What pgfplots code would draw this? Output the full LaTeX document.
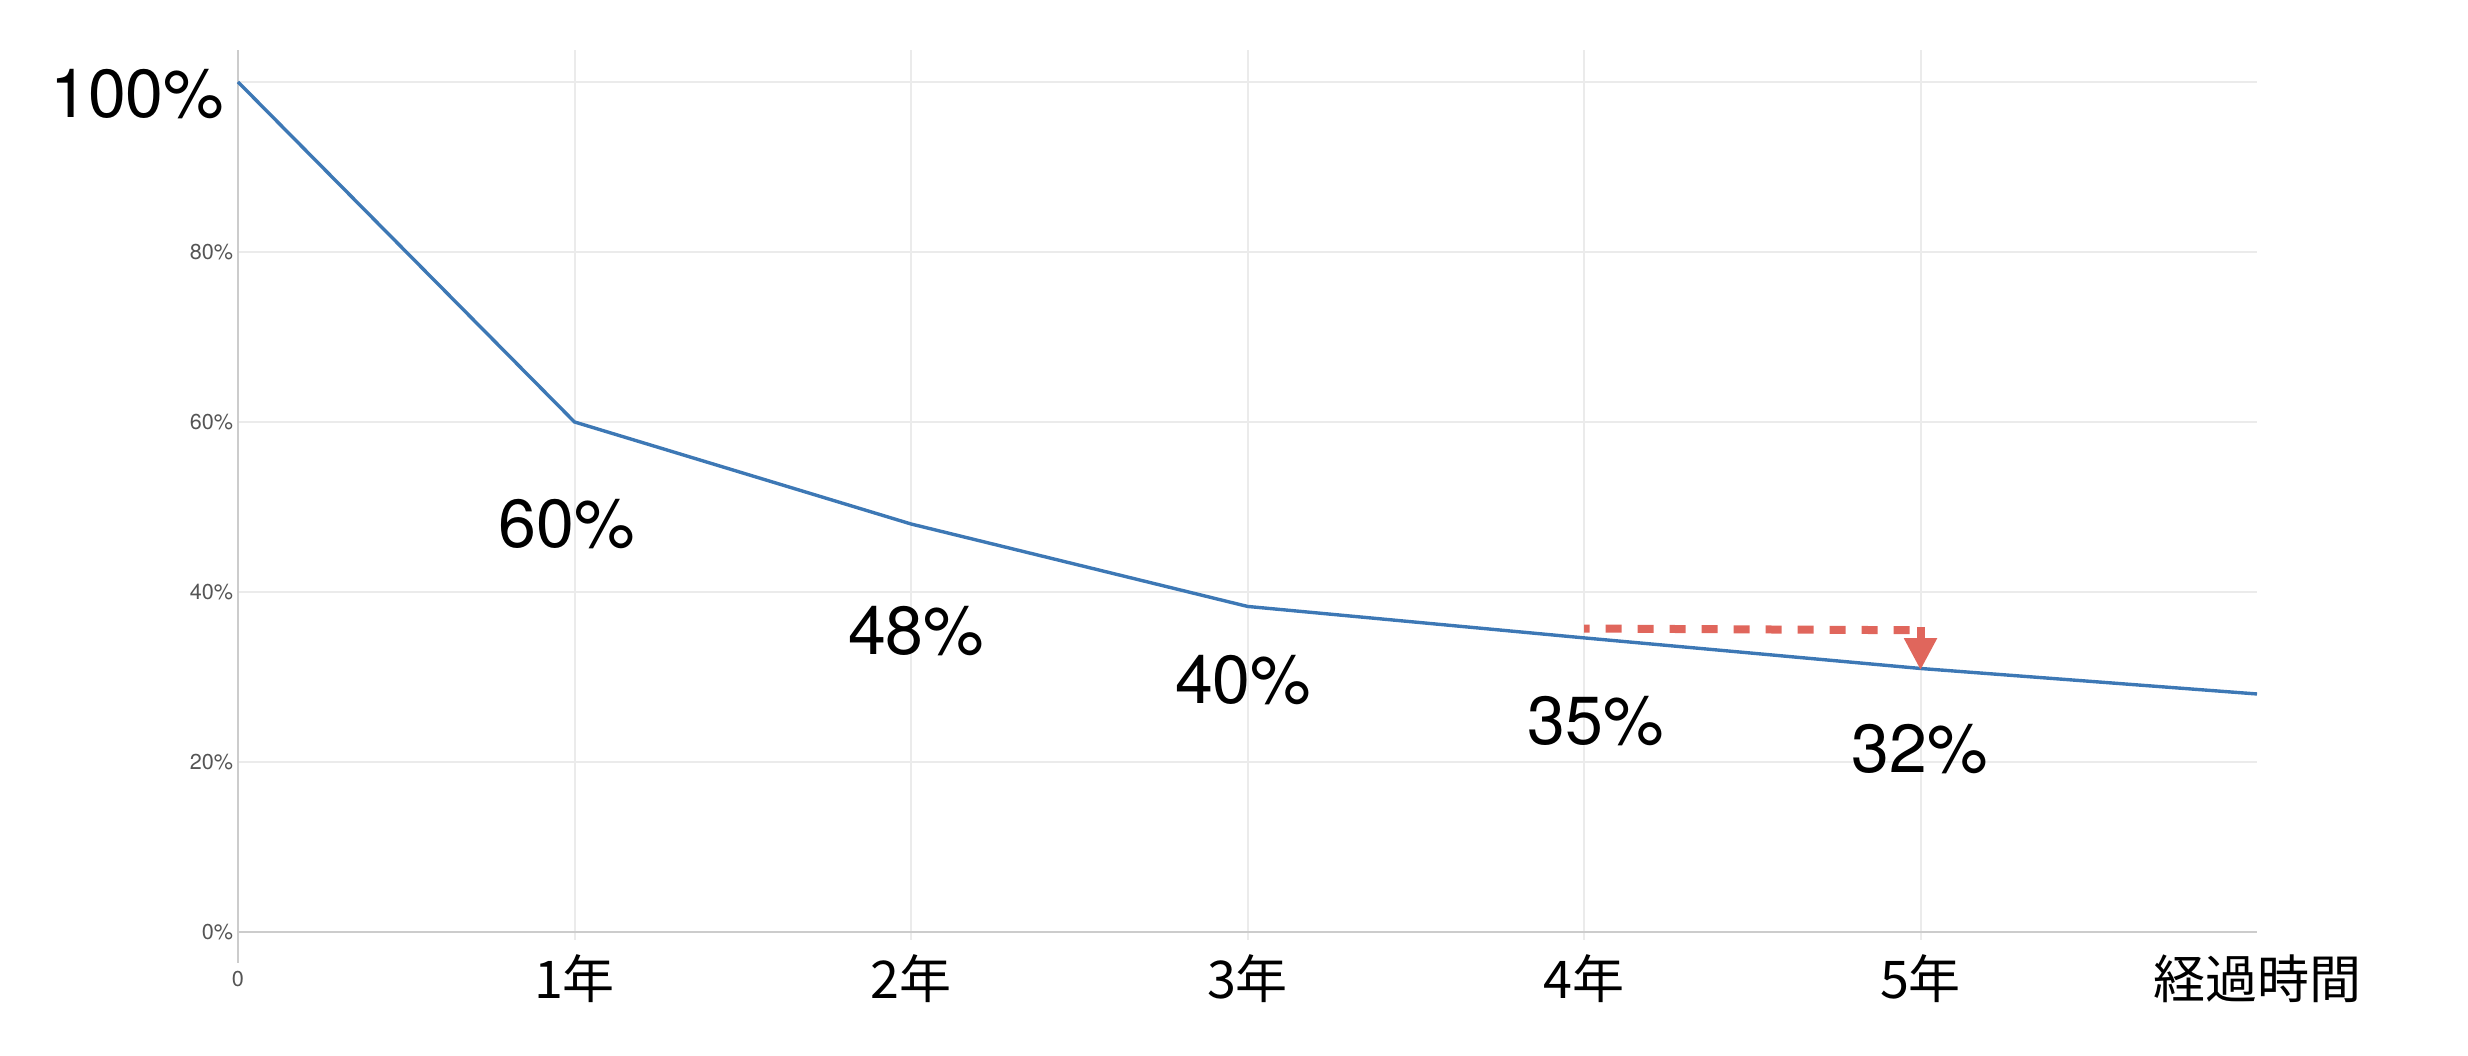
\documentclass[border=0pt]{standalone}
\usepackage{pgfplots}
\pgfplotsset{compat=1.18}
\usepackage{fontspec}
\setmainfont{TeX Gyre Heros}
\newfontfamily\cjk{Noto Sans CJK JP}
\usetikzlibrary{arrows.meta}
\definecolor{linecol}{HTML}{3D78B5}
\definecolor{arrowcol}{HTML}{E0665C}
\definecolor{gridcol}{HTML}{EBEBEB}
\definecolor{axiscol}{HTML}{CCCCCC}
\definecolor{tickcol}{HTML}{555555}
\begin{document}
\begin{tikzpicture}
\path[use as bounding box] (0,0) rectangle (617pt,264pt);
\begin{axis}[
  at={(59.5pt,29pt)}, anchor=south west,
  width=504.75pt, height=222.5pt, scale only axis,
  xmin=0, xmax=6, ymin=-0.94, ymax=103.76,
  clip=false,
  axis line style={draw=none},
  major tick length=0pt,
  xtick={0,1,2,3,4,5},
  xticklabels={{\fontsize{5.4}{6}\selectfont\color{tickcol}0},{\cjk 1年},{\cjk 2年},{\cjk 3年},{\cjk 4年},{\cjk 5年}},
  extra x ticks={6},
  extra x tick labels={{\cjk 経過時間}},
  extra x tick style={grid=none},
  xticklabel style={anchor=center, yshift=-9.75pt, font=\fontsize{13}{15}\selectfont},
  ytick={0,20,40,60,80},
  yticklabels={0\%,20\%,40\%,60\%,80\%},
  extra y ticks={100},
  extra y tick labels={},
  yticklabel style={anchor=east, inner sep=0pt, xshift=-1pt, font=\fontsize{5.4}{6}\selectfont, text=tickcol},
  grid=major,
  major grid style={gridcol, line width=0.5pt},
]
\draw[axiscol, line width=0.6pt] (axis cs:0,0) -- (axis cs:6,0);
\draw[axiscol, line width=0.6pt] (axis cs:0,-3.6) -- (axis cs:0,103.76);
\addplot[linecol, line width=0.85pt, mark=none] coordinates {
  (0,100) (1,60) (2,48) (3,38.3) (4,34.6) (5,31) (6,28)
};
\addplot[arrowcol, line width=2pt, dash pattern=on 4pt off 4pt, dash phase=2.6pt, mark=none] coordinates {
  (4,35.7) (4.975,35.5)
};
\addplot[arrowcol, line width=2pt, mark=none, -{Triangle[width=7.75pt,length=8pt]}] coordinates {
  (5,35.9) (5,30.8)
};
\node[anchor=east, font=\fontsize{17}{20}\selectfont, inner sep=0pt] at (axis cs:-0.039,98.6) {100\%};
\node[font=\fontsize{17}{20}\selectfont] at (axis cs:0.976,48.0) {60\%};
\node[font=\fontsize{17}{20}\selectfont] at (axis cs:2.015,35.4) {48\%};
\node[font=\fontsize{17}{20}\selectfont] at (axis cs:2.987,29.6) {40\%};
\node[font=\fontsize{17}{20}\selectfont] at (axis cs:4.035,24.8) {35\%};
\node[font=\fontsize{17}{20}\selectfont] at (axis cs:4.998,21.5) {32\%};
\end{axis}
\end{tikzpicture}
\end{document}
